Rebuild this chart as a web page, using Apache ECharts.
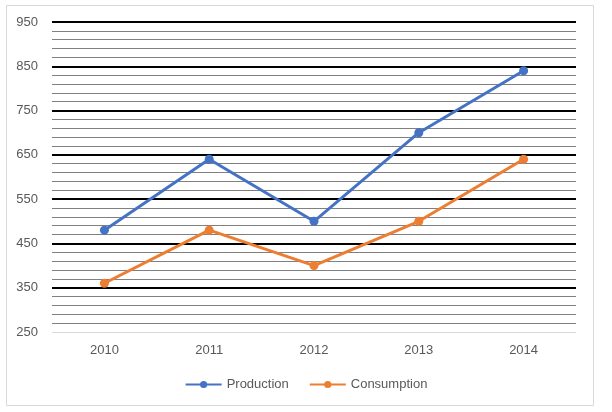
<!DOCTYPE html>
<html><head><meta charset="utf-8">
<script src="https://cdn.jsdelivr.net/npm/echarts@6/dist/echarts.min.js"></script>
<style>html,body{margin:0;padding:0;background:#fff}#c{width:612px;height:412px}</style>
</head><body><div id="c"></div>
<script>
var categories = ['2010','2011','2012','2013','2014'];
var production = [480, 640, 500, 700, 840];
var consumption = [360, 480, 400, 500, 640];
var seriesNames = ['Production','Consumption'];

var chart = echarts.init(document.getElementById('c'), null, {renderer:'canvas'});
var font = 'Liberation Sans, Arial, sans-serif';
chart.setOption({
  animation: false,
  backgroundColor: '#fff',
  graphic: [{type:'rect', shape:{x:6.5,y:5.5,width:587,height:400}, style:{fill:'none',stroke:'#d9d9d9',lineWidth:1}, silent:true}],
  grid: {left:52, right:36, top:22, bottom:80},
  legend: {
    data: seriesNames, bottom: 16, left: 'center', itemWidth: 36, itemHeight: 9, itemGap: 20,
    textStyle: {color:'#595959', fontSize:13, fontFamily:font}
  },
  xAxis: {
    type:'category', data: categories, boundaryGap:true,
    axisLine:{show:false}, axisTick:{show:false},
    axisLabel:{color:'#595959', fontSize:13, fontFamily:font, margin:12}
  },
  yAxis: [{
    type:'value', min:250, max:950, interval:100, z:2,
    axisLine:{show:false}, axisTick:{show:false},
    axisLabel:{color:'#595959', fontSize:13, fontFamily:font, margin:14},
    splitLine:{show:true, showMinLine:false, lineStyle:{color:'#000', width:2}}
  },{
    type:'value', min:250, max:950, interval:20, z:1, position:'left',
    axisLine:{show:false}, axisTick:{show:false}, axisLabel:{show:false},
    splitLine:{show:true, showMinLine:false, lineStyle:{color:'#808080', width:1}}
  }],
  series: [
    {name:seriesNames[0], type:'line', data:production, symbol:'circle', symbolSize:9,
     itemStyle:{color:'#4472C4'}, lineStyle:{width:3, color:'#4472C4'}, z:3},
    {name:seriesNames[1], type:'line', data:consumption, symbol:'circle', symbolSize:9,
     itemStyle:{color:'#ED7D31'}, lineStyle:{width:3, color:'#ED7D31'}, z:3},
    {type:'line', data:[], markLine:{silent:true, symbol:'none', label:{show:false},
      lineStyle:{color:'#d9d9d9', width:1, type:'solid'}, data:[{yAxis:250}]}}
  ]
});
</script></body></html>
